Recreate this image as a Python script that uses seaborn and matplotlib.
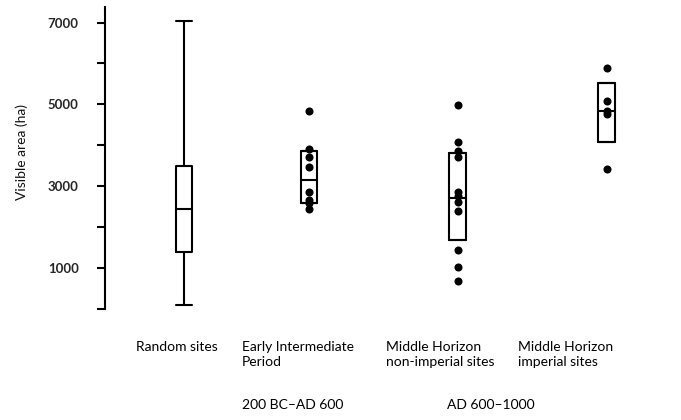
import matplotlib
matplotlib.use("Agg")
import matplotlib.pyplot as plt
import seaborn as sns
import pandas as pd
import numpy as np

# ---- data ----
categories = ["Random sites", "Early Intermediate\nPeriod",
              "Middle Horizon\nnon-imperial sites", "Middle Horizon\nimperial sites"]
period_labels = ["200 BC\u2013AD 600", "AD 600\u20131000"]

# box summaries: min, q1, median, q3, max
random_box = [100, 1400, 2450, 3500, 7050]
eip_box = [2600, 2600, 3160, 3860, 3860]
mh_non_box = [1690, 1690, 2710, 3810, 3810]
mh_imp_box = [4070, 4070, 4830, 5530, 5530]

eip_points = [4830, 3920, 3710, 3460, 2860, 2670, 2580, 2450]
mh_non_points = [4980, 4080, 3860, 3720, 2870, 2750, 2610, 2400, 1440, 1030, 690]
mh_imp_points = [5890, 5080, 4830, 4770, 3420]

y_major = [1000, 3000, 5000, 7000]
y_minor = [0, 2000, 4000, 6000]

# ---- layout ----
positions = [0.0, 1.0, 2.19, 3.38]

box_df = pd.DataFrame({
    "pos": np.repeat(positions, 5),
    "value": random_box + eip_box + mh_non_box + mh_imp_box,
})
pt_df = pd.DataFrame({
    "pos": [positions[1]] * len(eip_points) + [positions[2]] * len(mh_non_points)
           + [positions[3]] * len(mh_imp_points),
    "value": eip_points + mh_non_points + mh_imp_points,
})

sns.set_theme(style="white")
plt.rcParams["font.family"] = ["Lato", "DejaVu Sans"]

W, H = 681, 420
fig = plt.figure(figsize=(W / 100, H / 100), dpi=100)
ax_l, ax_r, ax_t, ax_b = 105, 665, 7, 309
ax = fig.add_axes([ax_l / W, 1 - ax_b / H, (ax_r - ax_l) / W, (ax_b - ax_t) / H])

px_per_unit = 125.0
x0 = (ax_l - 184) / px_per_unit
x1 = (ax_r - 184) / px_per_unit

sns.boxplot(data=box_df, x="pos", y="value", native_scale=True, whis=(0, 100),
            width=0.135, fill=False, color="black", linewidth=1.5,
            linecolor="black", capwidths=0.135, ax=ax)
sns.stripplot(data=pt_df, x="pos", y="value", native_scale=True, jitter=False,
              color="black", size=5.8, ax=ax, zorder=5)

ax.set_xlim(x0, x1)
ax.set_ylim(0, 7380)
ax.set_xlabel("")
ax.set_ylabel("")
ax.set_xticks([])
ax.set_yticks(y_major)
ax.set_yticks(y_minor, minor=True)
ax.set_yticklabels([str(v) for v in y_major], fontsize=9.5, fontweight="bold")
ax.tick_params(axis="y", which="both", direction="out", length=6, width=1.5,
               color="black", left=True, pad=13)
for s in ["top", "right", "bottom"]:
    ax.spines[s].set_visible(False)
ax.spines["left"].set_linewidth(1.5)
ax.spines["left"].set_color("black")

fig.text(22 / W, 1 - 152 / H, "Visible area (ha)", rotation=90, ha="center",
         va="center", fontsize=10, color="#111111")

label_x = [136, 242, 386, 518]
for lx, lab in zip(label_x, categories):
    fig.text(lx / W, 1 - 341 / H, lab, ha="left", va="top", fontsize=10,
             color="black", linespacing=1.3)

fig.text(242 / W, 1 - 399 / H, period_labels[0], ha="left", va="top",
         fontsize=10, color="black")
fig.text(447 / W, 1 - 399 / H, period_labels[1], ha="left", va="top",
         fontsize=10, color="black")

fig.savefig("out.png", dpi=100)
